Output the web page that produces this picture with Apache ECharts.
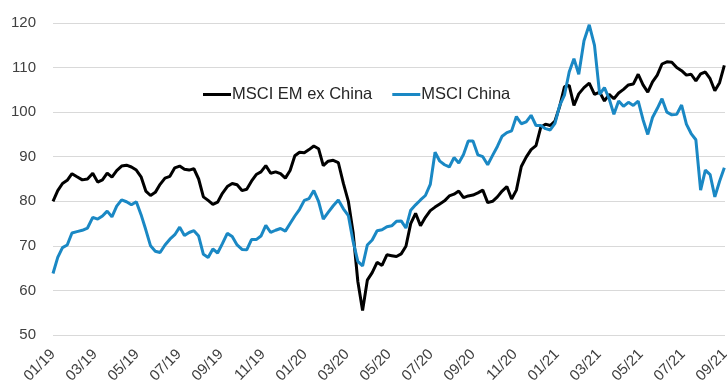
<!DOCTYPE html>
<html>
<head>
<meta charset="utf-8">
<script src="https://cdn.jsdelivr.net/npm/echarts@6/dist/echarts.min.js"></script>
<style>
html,body{margin:0;padding:0;background:#fff;}
#chart{width:727px;height:383px;}
</style>
</head>
<body>
<div id="chart"></div>
<script>
// Weekly observations starting 2019-01-01
const startDate = [2019, 0, 1];
const seriesNames = ['MSCI EM ex China', 'MSCI China'];
const emExChina = [
80.0,82.4,84.0,84.7,86.2,85.5,84.8,85.0,86.3,84.3,
84.8,86.3,85.4,86.9,87.9,88.1,87.7,87.0,85.5,82.3,
81.3,82.0,83.8,85.2,85.6,87.5,87.9,87.2,87.0,87.3,
85.0,81.0,80.2,79.3,79.8,81.8,83.3,84.0,83.7,82.4,
82.7,84.5,86.0,86.6,88.0,86.3,86.6,86.2,85.2,86.9,
90.2,91.0,90.9,91.6,92.4,91.8,88.0,89.0,89.2,88.7,
84.0,80.0,73.0,62.0,55.5,62.3,64.0,66.3,65.6,68.0,
67.8,67.6,68.2,69.9,75.0,77.3,74.5,76.4,77.9,78.7,
79.4,80.1,81.2,81.6,82.3,80.8,81.2,81.4,81.9,82.5,
79.7,80.0,81.0,82.3,83.3,80.5,82.5,87.8,89.9,91.6,
92.5,96.6,97.3,97.0,98.0,101.3,105.7,106.0,101.5,104.1,
105.5,106.5,104.0,104.5,102.5,104.0,103.0,104.3,105.1,106.1,
106.3,108.5,106.1,104.5,106.8,108.3,110.8,111.3,111.2,110.0,
109.3,108.3,108.5,107.0,108.6,109.0,107.5,104.8,106.6,110.5
];
const china = [
63.8,67.4,69.6,70.2,72.9,73.2,73.5,74.0,76.4,76.0,
76.7,77.8,76.5,78.9,80.3,79.9,79.2,79.9,77.0,73.6,
70.0,68.8,68.5,70.2,71.5,72.5,74.2,72.3,73.0,73.4,
72.2,68.1,67.4,69.3,68.4,70.5,72.8,72.1,70.2,69.2,
69.1,71.4,71.4,72.2,74.6,73.0,73.5,73.9,73.3,75.0,
76.7,78.2,80.2,80.6,82.4,80.0,76.0,77.5,79.0,80.3,
78.3,76.8,71.0,66.5,65.5,70.2,71.3,73.4,73.6,74.3,
74.5,75.5,75.6,74.0,78.0,79.2,80.3,81.3,83.8,91.0,
89.0,88.2,87.7,89.8,88.6,90.5,93.5,93.5,90.4,90.0,
88.2,90.3,92.3,94.6,95.4,95.8,99.0,97.4,97.8,99.3,
97.0,97.0,96.3,96.0,97.5,101.5,103.8,109.0,112.0,108.5,
116.0,119.6,115.0,104.0,105.5,103.0,99.5,102.5,101.3,102.2,
101.5,102.5,98.3,95.0,98.8,100.8,103.0,100.0,99.4,99.5,
101.6,97.3,95.2,93.8,82.5,87.0,86.0,81.0,84.5,87.5
];
const yTicks = {min: 50, max: 120, interval: 10};
const xLabelStepMonths = 2;
const xMonthsMax = 32; // 01/19 .. 09/21

function monthOffset(d) {
  const y = d.getUTCFullYear(), m = d.getUTCMonth(), day = d.getUTCDate();
  const dim = new Date(Date.UTC(y, m + 1, 0)).getUTCDate();
  return (y - startDate[0]) * 12 + m + (day - 1) / dim;
}
const dates = emExChina.map((_, i) => new Date(Date.UTC(startDate[0], startDate[1], startDate[2] + 7 * i)));
const xs = dates.map(monthOffset);

const chart = echarts.init(document.getElementById('chart'), null, {renderer: 'canvas'});
const font = '"Liberation Sans", Arial, sans-serif';
chart.setOption({
  animation: false,
  backgroundColor: '#ffffff',
  grid: {left: 53, right: 2, top: 23, bottom: 48, containLabel: false, outerBoundsMode: 'none'},
  legend: {
    left: 198, top: 81,
    icon: 'rect', itemWidth: 28, itemHeight: 3, itemGap: 20,
    textStyle: {fontFamily: font, fontSize: 16.5, color: '#262626', padding: [0, 0, 0, -4]},
    data: seriesNames
  },
  xAxis: {
    type: 'value', min: 0, max: xMonthsMax, interval: xLabelStepMonths,
    axisLine: {show: false}, axisTick: {show: false}, splitLine: {show: false},
    axisLabel: {
      rotate: 45, margin: 17, fontFamily: font, fontSize: 15, color: '#404040',
      showMinLabel: true, showMaxLabel: true, hideOverlap: false,
      formatter: v => {
        const m = Math.round(v) % 12 + 1, y = 19 + Math.floor(Math.round(v) / 12);
        return String(m).padStart(2, '0') + '/' + y;
      }
    }
  },
  yAxis: {
    type: 'value', min: yTicks.min, max: yTicks.max, interval: yTicks.interval,
    axisLine: {show: false}, axisTick: {show: false},
    splitLine: {lineStyle: {color: '#d9d9d9', width: 1}},
    axisLabel: {margin: 17, fontFamily: font, fontSize: 15, color: '#404040'}
  },
  series: [
    {name: seriesNames[0], type: 'line', showSymbol: false, symbol: 'none',
     data: xs.map((x, i) => [x, emExChina[i]]),
     lineStyle: {color: '#000000', width: 3}, itemStyle: {color: '#000000'}},
    {name: seriesNames[1], type: 'line', showSymbol: false, symbol: 'none',
     data: xs.map((x, i) => [x, china[i]]),
     lineStyle: {color: '#1a88c4', width: 3}, itemStyle: {color: '#1a88c4'}}
  ]
});
</script>
</body>
</html>
